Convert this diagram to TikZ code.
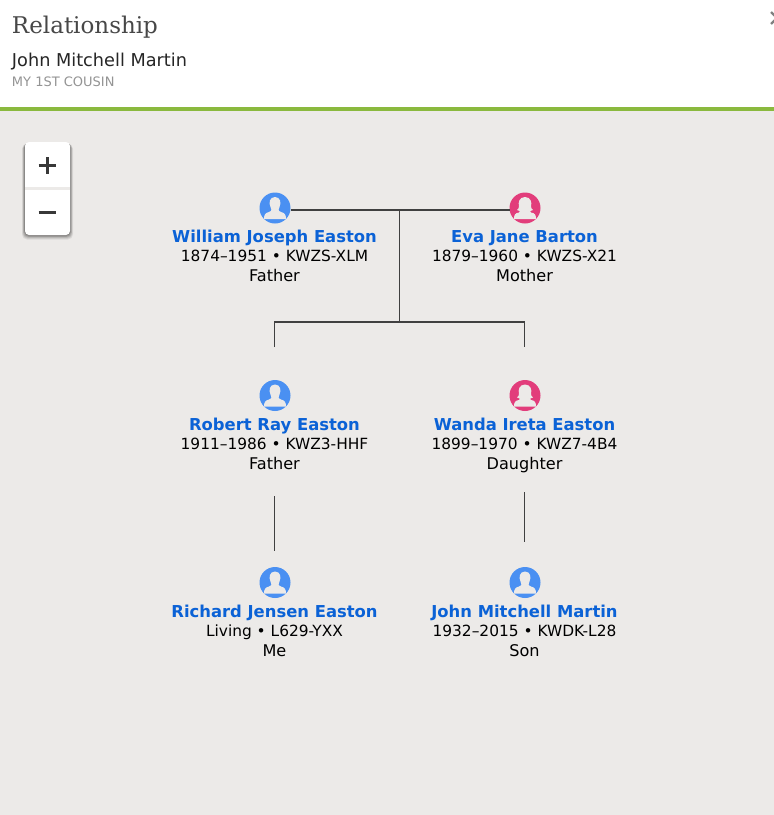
\documentclass[tikz,border=0pt]{standalone}
\usepackage{fontspec}
\setmainfont{DejaVu Sans}
\newfontfamily\slabfont{DejaVu Serif}
\definecolor{panelbg}{HTML}{ECEAE8}
\definecolor{barGreen}{HTML}{8AB93E}
\definecolor{linkBlue}{HTML}{0B62D6}
\definecolor{maleBlue}{HTML}{4A90F2}
\definecolor{femPink}{HTML}{E23D7B}
\definecolor{silh}{HTML}{ECEAE8}
\tikzset{
  x=1pt,y=-1pt,
  txt/.style={inner sep=0pt,outer sep=0pt,anchor=base},
  namelabel/.style={txt,text=linkBlue,font=\fontsize{16.4}{18}\selectfont\bfseries},
  sublabel/.style={txt,text=black,font=\fontsize{15.4}{16}\selectfont},
  rolelabel/.style={txt,text=black,font=\fontsize{16.1}{17}\selectfont},
  iconnode/.style={circle,fill=#1,minimum size=31pt,inner sep=0pt,outer sep=0pt},
  rel/.style={draw=black!75,line width=1.5pt},
}
\usetikzlibrary{calc}
\newcommand{\malesil}[1]{%
  \fill[silh] ($(#1)+(0,-11)$) .. controls ($(#1)+(5.5,-11)$) and ($(#1)+(6.5,-5)$) .. ($(#1)+(4.5,-1)$)
    .. controls ($(#1)+(3,1)$) and ($(#1)+(3,3)$) .. ($(#1)+(6,4)$)
    .. controls ($(#1)+(10,5)$) and ($(#1)+(11,7)$) .. ($(#1)+(11,11)$)
    -- ($(#1)+(-11,11)$)
    .. controls ($(#1)+(-11,7)$) and ($(#1)+(-10,5)$) .. ($(#1)+(-6,4)$)
    .. controls ($(#1)+(-3,3)$) and ($(#1)+(-3,1)$) .. ($(#1)+(-4.5,-1)$)
    .. controls ($(#1)+(-6.5,-5)$) and ($(#1)+(-5.5,-11)$) .. ($(#1)+(0,-11)$) -- cycle;}
\newcommand{\femsil}[1]{%
  \fill[silh] ($(#1)+(0,-11)$) .. controls ($(#1)+(6,-11)$) and ($(#1)+(7,-5)$) .. ($(#1)+(6,-2)$)
    .. controls ($(#1)+(5.5,0)$) and ($(#1)+(7,1)$) .. ($(#1)+(8,2)$)
    .. controls ($(#1)+(5,3)$) and ($(#1)+(4,3.5)$) .. ($(#1)+(6,4.5)$)
    .. controls ($(#1)+(10,5)$) and ($(#1)+(11,7)$) .. ($(#1)+(11,11)$)
    -- ($(#1)+(-11,11)$)
    .. controls ($(#1)+(-11,7)$) and ($(#1)+(-10,5)$) .. ($(#1)+(-6,4.5)$)
    .. controls ($(#1)+(-4,3.5)$) and ($(#1)+(-5,3)$) .. ($(#1)+(-8,2)$)
    .. controls ($(#1)+(-7,1)$) and ($(#1)+(-5.5,0)$) .. ($(#1)+(-6,-2)$)
    .. controls ($(#1)+(-7,-5)$) and ($(#1)+(-6,-11)$) .. ($(#1)+(0,-11)$) -- cycle;}
% id, x, icon y, text base y, colour, silhouette, name, details, role
\newcommand{\person}[9]{%
  \node[iconnode=#5] (#1) at (#2,#3) {};
  #6{#1}
  \node[namelabel] (#1name) at (#2-0.5,#4+34) {#7};
  \node[sublabel] (#1sub) at (#2-0.5,#4+53) {#8};
  \node[rolelabel] (#1role) at (#2-0.5,#4+73.5) {#9};
}
\begin{document}
\begin{tikzpicture}
\useasboundingbox (0,0) rectangle (774,815);
% panels
\fill[white] (0,0) rectangle (774,107);
\fill[panelbg] (0,110) rectangle (774,815);
\fill[barGreen] (0,107) rectangle (774,110.5);
% header
\node[txt,anchor=base west,text=black!72,font=\slabfont\fontsize{23}{26}\selectfont] (title) at (12,33) {Relationship};
\node[txt,anchor=base west,text=black!85,font=\fontsize{17.7}{20}\selectfont] (subject) at (12,66) {John Mitchell Martin};
\node[txt,anchor=base west,text=black!42,font=\fontsize{13}{15}\selectfont] (kin) at (12,86) {MY 1ST COUSIN};
% close glyph cut by the edge
\begin{scope}
\clip (760,0) rectangle (774,40);
\draw[black!50,line width=2.2pt] (771,12) -- (783,24) (771,24) -- (783,12);
\end{scope}
% zoom control
\foreach \o/\s in {0.07/5,0.09/4,0.11/3,0.13/2,0.15/1}{
  \fill[black,opacity=\o,rounded corners=5pt] (25-\s*0.6,142+\s*0.4) rectangle (70+\s*0.6,235+\s*0.9);
}
\fill[white,rounded corners=4pt] (25,142) rectangle (70,235);
\fill[panelbg] (25,187) rectangle (70,189.5);
\draw[black!78,line width=3pt] (38.5,165.5) -- (55.5,165.5) (47,157) -- (47,174);
\draw[black!78,line width=3pt] (38.5,212) -- (55.5,212);
% people
\person{william}{275}{208}{208}{maleBlue}{\malesil}{William Joseph Easton}{1874–1951 • KWZS-XLM}{Father}
\person{eva}{525}{208}{208}{femPink}{\femsil}{Eva Jane Barton}{1879–1960 • KWZS-X21}{Mother}
\person{robert}{275}{395.5}{396}{maleBlue}{\malesil}{Robert Ray Easton}{1911–1986 • KWZ3-HHF}{Father}
\person{wanda}{525}{395.5}{396}{femPink}{\femsil}{Wanda Ireta Easton}{1899–1970 • KWZ7-4B4}{Daughter}
\person{richard}{275}{582.5}{583.3}{maleBlue}{\malesil}{Richard Jensen Easton}{Living • L629-YXX}{Me}
\person{john}{525}{582.5}{583.3}{maleBlue}{\malesil}{John Mitchell Martin}{1932–2015 • KWDK-L28}{Son}
% connectors
\coordinate (couple) at (399.5,210);
\coordinate (split) at (399.5,322);
\coordinate (robertTop) at (274.5,347);
\coordinate (wandaTop) at (524.5,347);
\coordinate (robertEnd) at (274.5,496);
\coordinate (richardEnd) at (274.5,551);
\coordinate (wandaEnd) at (524.5,492);
\coordinate (johnEnd) at (524.5,542);
\draw[rel] (william.east |- couple) -- (couple) -- (eva.west |- couple);
\draw[rel] (couple) -- (split);
\draw[rel] (robertTop) -- (robertTop |- split) -- (wandaTop |- split) -- (wandaTop);
\draw[rel] (robertEnd) -- (richardEnd);
\draw[rel] (wandaEnd) -- (johnEnd);
\end{tikzpicture}
\end{document}
